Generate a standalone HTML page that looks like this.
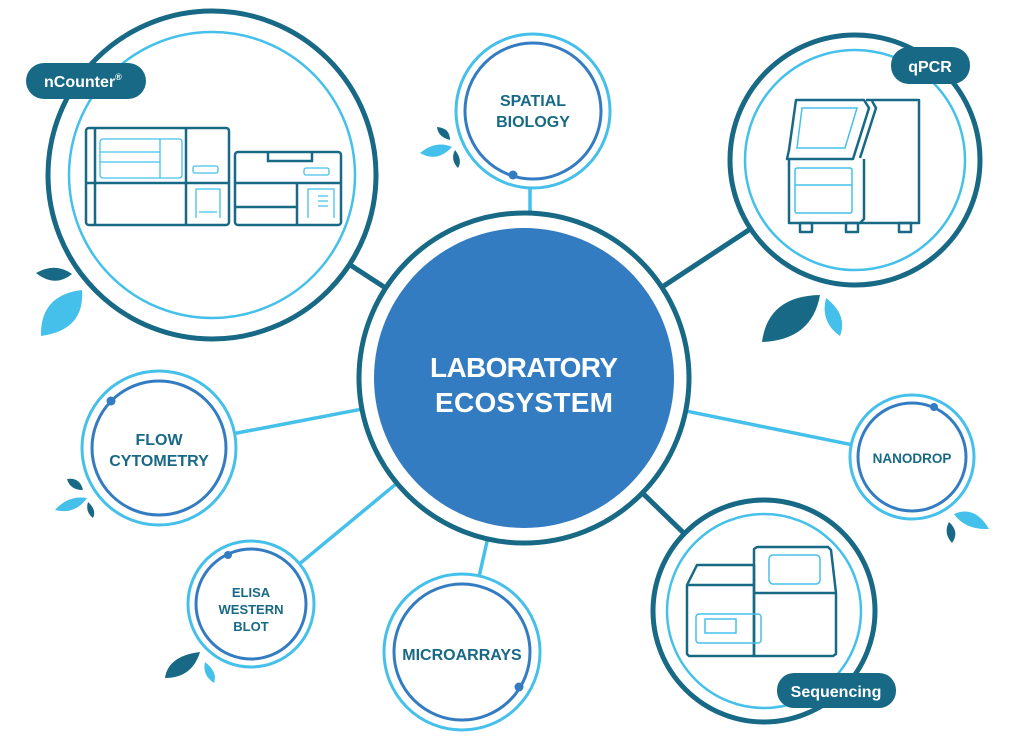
<!DOCTYPE html>
<html><head><meta charset="utf-8"><style>
html,body{margin:0;padding:0;background:#fff;}
svg{display:block;}
text{font-family:"Liberation Sans",Arial,sans-serif;font-weight:bold;}
</style></head><body>
<svg width="1024" height="742" viewBox="0 0 1024 742" xmlns="http://www.w3.org/2000/svg">
<g stroke-linecap="round">
<line x1="524" y1="378" x2="212" y2="175" stroke="#176985" stroke-width="5"/>
<line x1="524" y1="378" x2="855" y2="160" stroke="#176985" stroke-width="5"/>
<line x1="524" y1="378" x2="764" y2="611" stroke="#176985" stroke-width="5"/>
<line x1="530" y1="378" x2="530" y2="111" stroke="#45c0ea" stroke-width="3.5"/>
<line x1="524" y1="378" x2="912" y2="457" stroke="#45c0ea" stroke-width="3.5"/>
<line x1="524" y1="378" x2="159" y2="448" stroke="#45c0ea" stroke-width="3.5"/>
<line x1="524" y1="378" x2="251" y2="604" stroke="#45c0ea" stroke-width="3.5"/>
<line x1="524" y1="378" x2="462" y2="652" stroke="#45c0ea" stroke-width="3.5"/>
</g>
<!-- center -->
<circle cx="524" cy="378" r="165" fill="#fff" stroke="#176985" stroke-width="5"/>
<circle cx="524" cy="378" r="150" fill="#337cc1"/>
<text x="524" y="377" font-size="28" fill="#fff" text-anchor="middle" textLength="188">LABORATORY</text>
<text x="524" y="412" font-size="28" fill="#fff" text-anchor="middle" textLength="178">ECOSYSTEM</text>
<!-- big circles -->
<circle cx="212" cy="175" r="164" fill="#fff" stroke="#176985" stroke-width="5"/>
<circle cx="212" cy="175" r="143" fill="none" stroke="#45c0ea" stroke-width="2.5"/>
<circle cx="855" cy="160" r="125" fill="#fff" stroke="#176985" stroke-width="5"/>
<circle cx="855" cy="160" r="110" fill="none" stroke="#45c0ea" stroke-width="2.5"/>
<circle cx="764" cy="611" r="111" fill="#fff" stroke="#176985" stroke-width="5"/>
<circle cx="764" cy="611" r="97" fill="none" stroke="#45c0ea" stroke-width="2.5"/>
<!-- small circles -->
<g fill="#fff">
<circle cx="533" cy="111" r="77" stroke="#45c0ea" stroke-width="3"/>
<circle cx="533" cy="111" r="68" stroke="#337cc1" stroke-width="3"/>
<circle cx="159" cy="448" r="77" stroke="#45c0ea" stroke-width="3"/>
<circle cx="159" cy="448" r="67" stroke="#337cc1" stroke-width="3"/>
<circle cx="251" cy="604" r="63" stroke="#45c0ea" stroke-width="3"/>
<circle cx="251" cy="604" r="55" stroke="#337cc1" stroke-width="3"/>
<circle cx="462" cy="652" r="78" stroke="#45c0ea" stroke-width="3"/>
<circle cx="462" cy="652" r="68" stroke="#337cc1" stroke-width="3"/>
<circle cx="912" cy="457" r="62" stroke="#45c0ea" stroke-width="3"/>
<circle cx="912" cy="457" r="54" stroke="#337cc1" stroke-width="3"/>
</g>
<g fill="#337cc1">
<circle cx="513" cy="175" r="4.5"/><circle cx="111" cy="401" r="4.5"/><circle cx="228" cy="555" r="4"/>
<circle cx="519" cy="687" r="4.5"/><circle cx="934" cy="407" r="4"/>
</g>
<g fill="#176985" text-anchor="middle">
<text x="533" y="106" font-size="16">SPATIAL</text>
<text x="533" y="127" font-size="16">BIOLOGY</text>
<text x="159" y="445" font-size="16">FLOW</text>
<text x="159" y="466" font-size="16">CYTOMETRY</text>
<text x="251" y="597" font-size="13">ELISA</text>
<text x="251" y="614" font-size="13">WESTERN</text>
<text x="251" y="631" font-size="13">BLOT</text>
<text x="462" y="660" font-size="16">MICROARRAYS</text>
<text x="912" y="463" font-size="13.5">NANODROP</text>
</g>
<!-- pills -->
<rect x="26" y="63" width="120" height="36" rx="18" fill="#176985"/>
<text x="44" y="87" font-size="16" fill="#fff">nCounter<tspan font-size="9" dy="-7">®</tspan></text>
<rect x="891" y="47" width="79" height="37" rx="18" fill="#176985"/>
<text x="930" y="72" font-size="16" fill="#fff" text-anchor="middle">qPCR</text>
<rect x="777" y="673" width="119" height="35" rx="17" fill="#176985"/>
<text x="836" y="697" font-size="16" fill="#fff" text-anchor="middle">Sequencing</text>
<!-- nCounter device -->
<g fill="none" stroke="#176985" stroke-width="2.5">
<rect x="86" y="128" width="143" height="97" rx="3"/>
<line x1="95" y1="128" x2="95" y2="225"/><line x1="186" y1="128" x2="186" y2="225"/>
<line x1="86" y1="183" x2="229" y2="183"/>
<rect x="235" y="152" width="106" height="73" rx="3"/>
<path d="M268 152v9h44v-9"/>
<line x1="235" y1="183" x2="341" y2="183"/><line x1="297" y1="183" x2="297" y2="225"/>
<line x1="235" y1="207" x2="297" y2="207"/>
</g>
<g fill="none" stroke="#45c0ea" stroke-width="1.3">
<rect x="100" y="139" width="82" height="39" rx="3"/>
<line x1="160" y1="139" x2="160" y2="178"/><line x1="100" y1="152" x2="160" y2="152"/><line x1="100" y1="162" x2="160" y2="162"/>
<rect x="193" y="166" width="25" height="7" rx="2"/>
<path d="M196 218v-29h24v29M199 212h18"/>
<rect x="304" y="168" width="25" height="7" rx="2"/>
<path d="M308 218v-29h26v29M318 196h10M318 201h10M318 206h10"/>
</g>
<!-- qPCR device -->
<g fill="none" stroke="#176985" stroke-width="2.5" stroke-linejoin="round">
<path d="M866 100h53v123h-59"/>
<path d="M796 100h68l5 8-16 51h-66l2-9z"/>
<path d="M789 159v64h71l4-4v-60"/>
<path d="M872 101l4 7-16 50"/>
<rect x="800" y="223" width="12" height="9"/><rect x="846" y="223" width="12" height="9"/><rect x="899" y="223" width="12" height="9"/>
</g>
<g fill="none" stroke="#45c0ea" stroke-width="1.5">
<path d="M802 108h55l-12 40h-48z"/>
<rect x="795" y="168" width="57" height="45" rx="2"/><line x1="795" y1="185" x2="852" y2="185"/>
</g>
<!-- sequencing device -->
<g fill="none" stroke="#176985" stroke-width="2.5" stroke-linejoin="round">
<path d="M754 565h-57l-10 20v69l2 2h65z"/>
<path d="M687 585h67"/>
<path d="M754 656v-107l3-2h71l3 3 5 43v61l-3 2z"/>
<line x1="754" y1="593" x2="836" y2="593"/>
</g>
<g fill="none" stroke="#45c0ea" stroke-width="1.5">
<rect x="769" y="555" width="51" height="29" rx="4"/>
<rect x="696" y="614" width="65" height="29" rx="3"/>
<rect x="705" y="619" width="31" height="14"/>
</g>
<!-- leaves -->
<g>
<path d="M36 273 Q55 262 72 274 Q55 288 36 273z" fill="#176985"/>
<path d="M41 336 Q40 295 82 290 Q85 330 41 336z" fill="#45c0ea"/>
<path d="M762 342 Q768 296 820 295 Q812 340 762 342z" fill="#176985"/>
<path d="M826 298 Q848 315 840 336 Q820 322 826 298z" fill="#45c0ea"/>
<path d="M437 127 Q450 128 450 140 Q438 137 437 127z" fill="#176985"/>
<path d="M420 153 Q436 140 452 147 Q437 163 420 153z" fill="#45c0ea"/>
<path d="M455 150 Q463 160 458 168 Q450 160 455 150z" fill="#176985"/>
<path d="M67 479 Q80 477 83 490 Q70 490 67 479z" fill="#176985"/>
<path d="M55 510 Q68 495 87 498 Q75 515 55 510z" fill="#45c0ea"/>
<path d="M88 502 Q97 510 93 518 Q85 512 88 502z" fill="#176985"/>
<path d="M165 678 Q168 656 200 652 Q192 678 165 678z" fill="#176985"/>
<path d="M205 662 Q218 672 214 683 Q202 675 205 662z" fill="#45c0ea"/>
<path d="M954 514 Q975 505 989 529 Q965 530 954 514z" fill="#45c0ea"/>
<path d="M949 522 Q960 532 952 543 Q943 533 949 522z" fill="#176985"/>
</g>
</svg>
</body></html>
